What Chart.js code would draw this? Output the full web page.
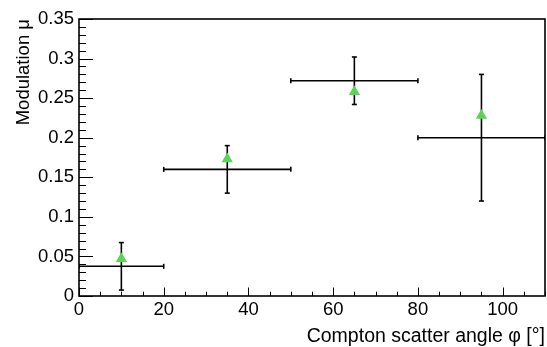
<!DOCTYPE html>
<html>
<head>
<meta charset="utf-8">
<script src="https://cdn.jsdelivr.net/npm/chart.js@4.4.0/dist/chart.umd.min.js"></script>
<style>
  html, body { margin: 0; padding: 0; background: #fff; }
  #wrap { width: 547px; height: 347px; }
</style>
</head>
<body>
<div id="wrap"><canvas id="chart" width="547" height="347"></canvas></div>
<script>
// measured modulation per scatter-angle bin
const binLow = [0, 20, 50, 80]
const binHigh = [20, 50, 80, 110]
const binCenter = [10, 35, 65, 95]
const modulation = [0.0375, 0.16, 0.272, 0.2]
const modError = [0.03, 0.03, 0.03, 0.08]
// green triangles
const simModulation = [0.047, 0.173, 0.258, 0.228]

const xTickLabels = [0, 20, 40, 60, 80, 100]
const yTickLabels = [0, 0.05, 0.1, 0.15, 0.2, 0.25, 0.3, 0.35]

const FONT = '"Liberation Sans", Arial, Helvetica, sans-serif'
const GREEN = 'rgb(89, 212, 84)'

var datasets = []

datasets.push({
  label: 'sim',
  data: binCenter.map((x, i) => ({ x: x, y: simModulation[i] })),
  showLine: false,
  pointStyle: 'triangle',
  pointRadius: 6.5,
  pointBackgroundColor: GREEN,
  pointBorderWidth: 0,
  order: 0
})

for (var i = 0; i < binLow.length; i++) {
  // horizontal bar (bin width)
  datasets.push({
    data: [{ x: binLow[i], y: modulation[i] }, { x: binHigh[i], y: modulation[i] }],
    showLine: true,
    borderColor: '#000',
    borderWidth: 1.6,
    pointStyle: 'line',
    pointRotation: 90,
    pointRadius: 2.5,
    pointBorderColor: '#000',
    pointBorderWidth: 1.6,
    order: 1
  })
  // vertical error bar
  datasets.push({
    data: [{ x: binCenter[i], y: modulation[i] - modError[i] }, { x: binCenter[i], y: modulation[i] + modError[i] }],
    showLine: true,
    borderColor: '#000',
    borderWidth: 1.6,
    pointStyle: 'line',
    pointRotation: 0,
    pointRadius: 2.5,
    pointBorderColor: '#000',
    pointBorderWidth: 1.6,
    order: 1
  })
}

// ROOT-like frame with inward ticks
const frame = {
  id: 'frame',
  afterDraw(chart) {
    const ctx = chart.ctx
    const a = chart.chartArea
    const xs = chart.scales.x
    const ys = chart.scales.y
    ctx.save()
    ctx.strokeStyle = '#000'
    ctx.lineWidth = 1
    ctx.beginPath()
    for (var v = 0; v <= 110; v += 5) {
      var px = Math.round(xs.getPixelForValue(v)) + 0.5
      var len = v % 20 === 0 ? 8.5 : 4.3
      ctx.moveTo(px, a.bottom)
      ctx.lineTo(px, a.bottom - len)
    }
    for (var k = 0; k <= 35; k++) {
      var py = Math.round(ys.getPixelForValue(k / 100)) + 0.5
      var l = k % 5 === 0 ? 14 : 7
      ctx.moveTo(a.left, py)
      ctx.lineTo(a.left + l, py)
    }
    ctx.stroke()
    ctx.lineWidth = 1.6
    ctx.strokeRect(a.left, a.top, a.right - a.left, a.bottom - a.top)
    ctx.restore()
  }
}

new Chart(document.getElementById('chart'), {
  type: 'scatter',
  data: { datasets: datasets },
  options: {
    responsive: false,
    animation: false,
    layout: { autoPadding: false, padding: { top: 19, right: 2, left: 0, bottom: 0 } },
    plugins: {
      legend: { display: false },
      tooltip: { enabled: false }
    },
    scales: {
      x: {
        type: 'linear',
        min: 0,
        max: 110,
        afterFit: (s) => { s.height = 51 },
        grid: { display: false, drawTicks: false },
        border: { display: false },
        afterBuildTicks: (s) => { s.ticks = xTickLabels.map(v => ({ value: v })) },
        ticks: {
          padding: 3,
          maxRotation: 0,
          autoSkip: false,
          color: '#000',
          font: { family: FONT, size: 18.5 },
          callback: (v) => String(v)
        },
        title: {
          display: true,
          text: 'Compton scatter angle \u03c6 [\u00b0]',
          align: 'end',
          color: '#000',
          padding: { top: 0, bottom: -1 },
          font: { family: FONT, size: 19.5 }
        }
      },
      y: {
        type: 'linear',
        min: 0,
        max: 0.35,
        afterFit: (s) => { s.width = 79 },
        grid: { display: false, drawTicks: false },
        border: { display: false },
        afterBuildTicks: (s) => { s.ticks = yTickLabels.map(v => ({ value: v })) },
        ticks: {
          padding: 5,
          autoSkip: false,
          color: '#000',
          font: { family: FONT, size: 18.5 },
          callback: (v) => String(parseFloat(v.toFixed(2)))
        },
        title: {
          display: true,
          text: 'Modulation \u03bc',
          align: 'end',
          color: '#000',
          padding: { top: 13, bottom: 0 },
          font: { family: FONT, size: 18.5 }
        }
      }
    }
  },
  plugins: [frame]
})
</script>
</body>
</html>
